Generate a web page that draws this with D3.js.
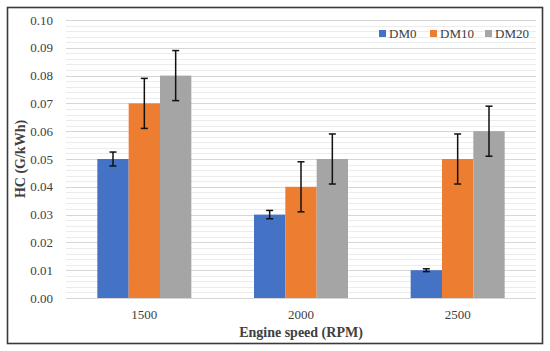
<!DOCTYPE html>
<html lang="en">
<head>
  <meta charset="UTF-8">
  <title>HC emissions</title>
  <style>
    body { margin: 0; background: #fff; }
    svg text { font-family: "Liberation Serif", serif; fill: #404040; }
  </style>
</head>
<body>
  <svg id="svg" width="550" height="351"></svg>
  <script src="https://d3js.org/d3.v7.min.js"></script>
  <script>
    // chart values
    const speeds = ['1500', '2000', '2500']
    const series = ['DM0', 'DM10', 'DM20']
    const colors = ['#4472C4', '#ED7D31', '#A5A5A5']
    const dm0 = [0.05, 0.03, 0.01]
    const dm10 = [0.07, 0.04, 0.05]
    const dm20 = [0.08, 0.05, 0.06]
    const dm0Err = [0.0025, 0.0015, 0.0005]
    const dm10Err = [0.009, 0.009, 0.009]
    const dm20Err = [0.009, 0.009, 0.009]
    const yTicks = [0, 0.01, 0.02, 0.03, 0.04, 0.05, 0.06, 0.07, 0.08, 0.09, 0.10]

    const values = [dm0, dm10, dm20]
    const errors = [dm0Err, dm10Err, dm20Err]

    const data = []
    speeds.forEach((s, i) => {
      series.forEach((name, j) => {
        data.push({ speed: s, series: name, value: values[j][i], err: errors[j][i] })
      })
    })

    const margin = { top: 20, right: 14, bottom: 53, left: 66 }
    const width = 550 - margin.left - margin.right
    const height = 351 - margin.top - margin.bottom

    const svg = d3.select('#svg')

    // outer frame
    svg.append('rect')
      .attr('x', 7.5).attr('y', 7.5)
      .attr('width', 535).attr('height', 336)
      .attr('fill', 'none')
      .attr('stroke', '#3a3a3a')
      .attr('stroke-width', 1.6)

    const g = svg.append('g')
      .attr('transform', `translate(${margin.left}, ${margin.top})`)

    const x = d3.scaleBand()
      .domain(speeds)
      .range([0, width])
      .paddingInner(0.4)
      .paddingOuter(0.2)

    const xInner = d3.scaleBand()
      .domain(series)
      .range([0, x.bandwidth()])

    const y = d3.scaleLinear()
      .domain([0, 0.1])
      .range([height, 0])

    // minor gridlines
    g.append('g')
      .selectAll('line')
      .data(d3.range(0, 50).map(i => i * 0.002).filter((d, i) => i % 5 !== 0))
      .enter()
      .append('line')
      .attr('x1', 0).attr('x2', width)
      .attr('y1', d => Math.round(y(d)) + 0.5)
      .attr('y2', d => Math.round(y(d)) + 0.5)
      .attr('stroke', '#ececec')

    // major gridlines
    g.append('g')
      .selectAll('line')
      .data(yTicks)
      .enter()
      .append('line')
      .attr('x1', 0).attr('x2', width)
      .attr('y1', d => Math.round(y(d)) + 0.5)
      .attr('y2', d => Math.round(y(d)) + 0.5)
      .attr('stroke', '#d6d6d6')

    // y axis labels
    const leftAxis = d3.axisLeft(y)
      .tickValues(yTicks)
      .tickFormat(d3.format('.2f'))
      .tickSize(0)
      .tickPadding(13)
    const yAxis = g.append('g').call(leftAxis)
    yAxis.select('.domain').remove()
    yAxis.selectAll('text')
      .style('font-size', '13px')
      .style('font-family', '"Liberation Serif", serif')
      .attr('fill', '#404040')

    // bars
    const groups = g.selectAll('.grp')
      .data(speeds)
      .enter()
      .append('g')
      .attr('transform', d => `translate(${x(d)}, 0)`)

    groups.selectAll('rect')
      .data(s => data.filter(d => d.speed === s))
      .enter()
      .append('rect')
      .attr('x', d => xInner(d.series))
      .attr('y', d => y(d.value))
      .attr('width', xInner.bandwidth())
      .attr('height', d => height - y(d.value))
      .attr('fill', d => colors[series.indexOf(d.series)])

    // error bars
    const eb = groups.selectAll('.eb')
      .data(s => data.filter(d => d.speed === s))
      .enter()
      .append('g')
      .attr('stroke', '#111')
      .attr('stroke-width', 1.5)
    const cx = d => xInner(d.series) + xInner.bandwidth() / 2
    eb.append('line')
      .attr('x1', cx).attr('x2', cx)
      .attr('y1', d => y(d.value - d.err))
      .attr('y2', d => y(d.value + d.err))
    eb.append('line')
      .attr('x1', d => cx(d) - 3.5).attr('x2', d => cx(d) + 3.5)
      .attr('y1', d => y(d.value + d.err))
      .attr('y2', d => y(d.value + d.err))
    eb.append('line')
      .attr('x1', d => cx(d) - 3.5).attr('x2', d => cx(d) + 3.5)
      .attr('y1', d => y(d.value - d.err))
      .attr('y2', d => y(d.value - d.err))

    // x axis labels
    const bottomAxis = d3.axisBottom(x).tickSize(0).tickPadding(12)
    const xAxis = g.append('g')
      .attr('transform', `translate(0, ${height})`)
      .call(bottomAxis)
    xAxis.select('.domain').remove()
    xAxis.selectAll('text')
      .style('font-size', '13px')
      .style('font-family', '"Liberation Serif", serif')
      .attr('fill', '#404040')

    // axis titles
    svg.append('text')
      .attr('x', margin.left + width / 2)
      .attr('y', 337)
      .attr('text-anchor', 'middle')
      .style('font-size', '14px')
      .style('font-weight', 'bold')
      .attr('fill', '#111')
      .text('Engine speed (RPM)')

    svg.append('text')
      .attr('transform', `translate(25, ${margin.top + height / 2}) rotate(-90)`)
      .attr('text-anchor', 'middle')
      .style('font-size', '14px')
      .style('font-weight', 'bold')
      .attr('fill', '#111')
      .text('HC (G/kWh)')

    // legend
    const legendX = [379, 430, 485]
    const legend = svg.append('g')
    series.forEach((name, i) => {
      legend.append('rect')
        .attr('x', legendX[i]).attr('y', 30)
        .attr('width', 7).attr('height', 7)
        .attr('fill', colors[i])
      legend.append('text')
        .attr('x', legendX[i] + 10).attr('y', 38)
        .style('font-size', '13px')
        .attr('fill', '#404040')
        .text(name)
    })
  </script>
</body>
</html>
